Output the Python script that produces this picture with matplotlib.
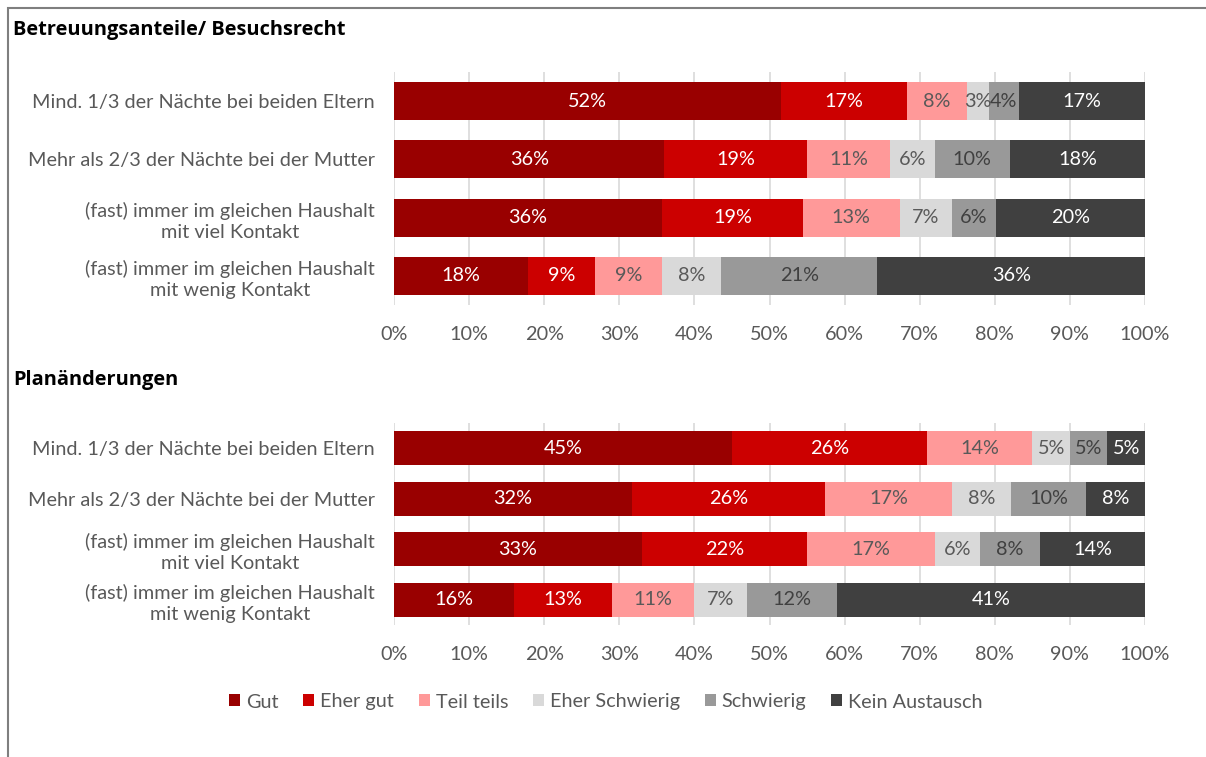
import numpy as np
import matplotlib
matplotlib.use("Agg")
import matplotlib.pyplot as plt
from matplotlib.patches import Rectangle, Patch

### Data (percent labels as shown, rows normalised to 100)
categories = ["Mind. 1/3 der Nächte bei beiden Eltern",
              "Mehr als 2/3 der Nächte bei der Mutter",
              "(fast) immer im gleichen Haushalt\nmit viel Kontakt",
              "(fast) immer im gleichen Haushalt\nmit wenig Kontakt"]
series = ["Gut", "Eher gut", "Teil teils", "Eher Schwierig", "Schwierig", "Kein Austausch"]

betreuung = [[52, 17, 8, 3, 4, 17],
             [36, 19, 11, 6, 10, 18],
             [36, 19, 13, 7, 6, 20],
             [18, 9, 9, 8, 21, 36]]
planaenderung = [[45, 26, 14, 5, 5, 5],
                 [32, 26, 17, 8, 10, 8],
                 [33, 22, 17, 6, 8, 14],
                 [16, 13, 11, 7, 12, 41]]
titles = ["Betreuungsanteile/ Besuchsrecht", "Planänderungen"]

colors = ["#990000", "#CC0000", "#FF9999", "#D9D9D9", "#999999", "#404040"]
text_colors = ["white", "white", "#595959", "#595959", "#404040", "white"]

plt.rcParams['font.family'] = ['Lato', 'DejaVu Sans']
FS = 14.3
W, H = 1206, 757
fig = plt.figure(figsize=(W / 100, H / 100), dpi=100)

# outer frame (only top and left visible)
fig.add_artist(Rectangle((8 / W, -0.1), 1.2, 1 - 8 / H + 0.1, transform=fig.transFigure,
                         fill=False, edgecolor="#7f7f7f", linewidth=1.5))

def px(x0, y0, x1, y1):
    return [x0 / W, 1 - y1 / H, (x1 - x0) / W, (y1 - y0) / H]

panels = [(px(394, 72, 1145, 305), 0.65, 30), (px(394, 423, 1145, 625), 0.67, 380)]
data_sets = [betreuung, planaenderung]

for (rect, bh, ty), data, title in zip(panels, data_sets, titles):
    ax = fig.add_axes(rect)
    data = np.array(data, dtype=float)
    norm = data / data.sum(axis=1, keepdims=True) * 100
    y = np.arange(len(categories))
    left = np.zeros(len(categories))
    for j in range(len(series)):
        ax.barh(y, norm[:, j], left=left, height=bh, color=colors[j], label=series[j], zorder=3)
        for i in range(len(categories)):
            ax.text(left[i] + norm[i, j] / 2, y[i], "%d%%" % data[i, j], ha="center", va="center",
                    color=text_colors[j], fontsize=FS, zorder=4)
        left += norm[:, j]
    ax.set_xlim(0, 100)
    ax.set_ylim(len(categories) - 0.5, -0.5)
    ax.set_xticks(np.arange(0, 101, 10))
    ax.set_xticklabels(["%d%%" % v for v in range(0, 101, 10)], fontsize=FS, color="#595959")
    ax.set_yticks(y)
    ax.set_yticklabels(categories, fontsize=FS, color="#595959", multialignment="center",
                       linespacing=1.3)
    ax.tick_params(length=0, axis="x", pad=15)
    ax.tick_params(length=0, axis="y", pad=14)
    ax.grid(axis="x", color="#D9D9D9", linewidth=1.2, zorder=0)
    for s in ax.spines.values():
        s.set_visible(False)
    fig.text(13 / W, 1 - ty / H, title, fontsize=14.4, fontweight="bold", color="black",
             ha="left", va="center", family=["Open Sans", "DejaVu Sans"])

handles = [Patch(facecolor=c, edgecolor="none") for c in colors]
leg = fig.legend(handles, series, loc="center", bbox_to_anchor=(606 / W, 1 - 702 / H), ncol=6,
                 frameon=False, handlelength=0.55, handleheight=0.55,
                 handletextpad=0.3, columnspacing=1.25,
                 prop={"size": FS})
for t in leg.get_texts():
    t.set_color("#595959")

plt.savefig("out.png", dpi=100)
